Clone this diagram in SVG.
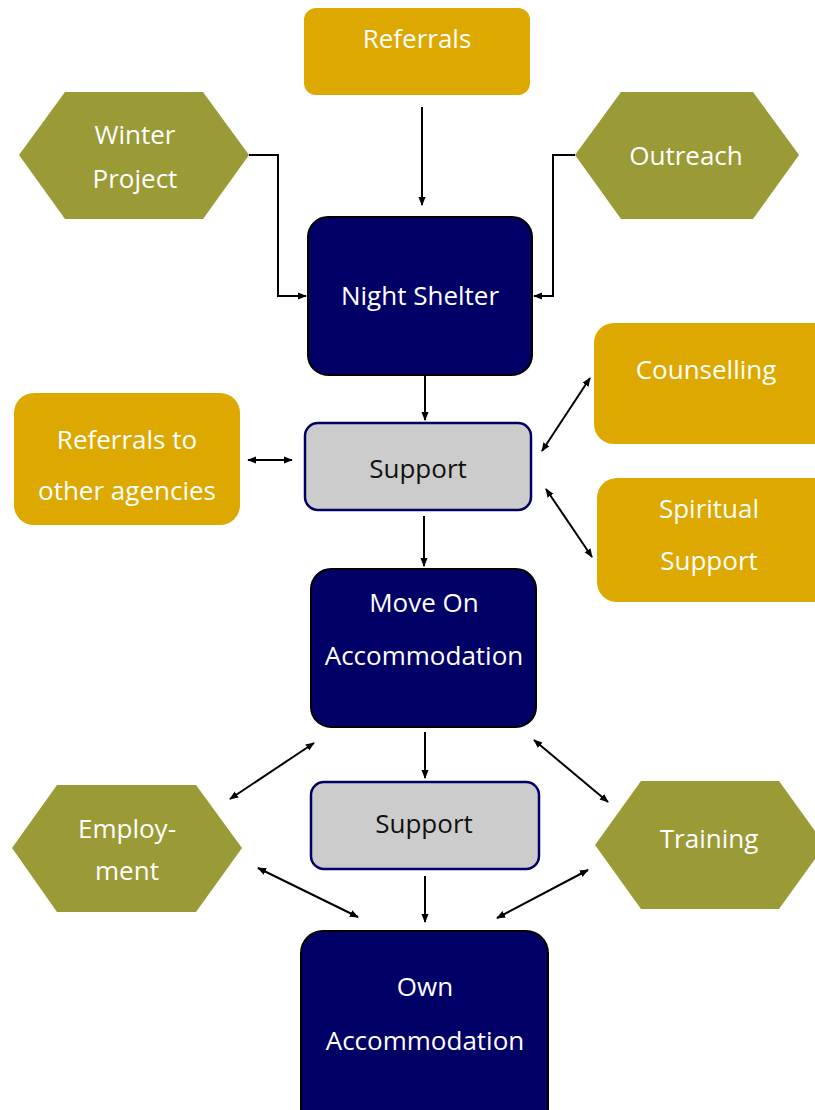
<svg xmlns="http://www.w3.org/2000/svg" width="815" height="1110" viewBox="0 0 815 1110">
<style>
.gold{fill:#DDA900}
.olive{fill:#9A9A36}
.navy{fill:#000066;stroke:#000;stroke-width:2}
.grey{fill:#CCCCCC;stroke:#000066;stroke-width:2.5}
text{font-family:"Open Sans","Liberation Sans",sans-serif;font-size:26px;text-anchor:middle;fill:#fff}
.dark{fill:#111}
.c{fill:none;stroke:#000;stroke-width:2}
</style>
<defs>
<marker id="ah" viewBox="0 0 10 10" refX="9" refY="5" markerWidth="9" markerHeight="9" markerUnits="userSpaceOnUse" orient="auto-start-reverse">
<path d="M0,1 L10,5 L0,9 z" fill="#000"/>
</marker>
</defs>
<rect width="815" height="1110" fill="#fff"/>
<g id="connectors">
<line class="c" x1="422" y1="107" x2="422" y2="205" marker-end="url(#ah)"/>
<polyline class="c" points="249,155 278,155 278,296 306,296" marker-end="url(#ah)"/>
<polyline class="c" points="575,155 553,155 553,296 534,296" marker-end="url(#ah)"/>
<line class="c" x1="425" y1="376" x2="425" y2="420" marker-end="url(#ah)"/>
<line class="c" x1="248" y1="460" x2="292" y2="460" marker-start="url(#ah)" marker-end="url(#ah)"/>
<line class="c" x1="542" y1="451" x2="590" y2="378" marker-start="url(#ah)" marker-end="url(#ah)"/>
<line class="c" x1="546" y1="489" x2="592" y2="557" marker-start="url(#ah)" marker-end="url(#ah)"/>
<line class="c" x1="424" y1="516" x2="424" y2="566" marker-end="url(#ah)"/>
<line class="c" x1="425" y1="732" x2="425" y2="778" marker-end="url(#ah)"/>
<line class="c" x1="425" y1="876" x2="425" y2="922" marker-end="url(#ah)"/>
<line class="c" x1="314" y1="743" x2="230" y2="799" marker-start="url(#ah)" marker-end="url(#ah)"/>
<line class="c" x1="534" y1="740" x2="608" y2="802" marker-start="url(#ah)" marker-end="url(#ah)"/>
<line class="c" x1="258" y1="868" x2="358" y2="917" marker-start="url(#ah)" marker-end="url(#ah)"/>
<line class="c" x1="588" y1="870" x2="497" y2="918" marker-start="url(#ah)" marker-end="url(#ah)"/>
</g>
<g id="referrals">
<rect class="gold" x="304" y="8" width="226" height="87" rx="12"/>
<text x="417" y="48">Referrals</text>
</g>
<g id="winter-project">
<polygon class="olive" points="19,155 65,92 203,92 249,155 203,219 65,219"/>
<text x="135" y="144">Winter</text>
<text x="135" y="188">Project</text>
</g>
<g id="outreach">
<polygon class="olive" points="575,155 621,92 753,92 799,155 753,219 621,219"/>
<text x="686" y="165">Outreach</text>
</g>
<g id="night-shelter">
<rect class="navy" x="308" y="217" width="224" height="158" rx="20"/>
<text x="420" y="305">Night Shelter</text>
</g>
<g id="support-1">
<rect class="grey" x="305" y="423" width="226" height="87" rx="13"/>
<text class="dark" x="418" y="478">Support</text>
</g>
<g id="referrals-other">
<rect class="gold" x="14" y="393" width="226" height="132" rx="20"/>
<text x="127" y="449">Referrals to</text>
<text x="127" y="500">other agencies</text>
</g>
<g id="counselling">
<rect class="gold" x="594" y="323" width="240" height="121" rx="20"/>
<text x="706" y="379">Counselling</text>
</g>
<g id="spiritual-support">
<rect class="gold" x="597" y="478" width="240" height="124" rx="20"/>
<text x="709" y="518">Spiritual</text>
<text x="709" y="570">Support</text>
</g>
<g id="move-on">
<rect class="navy" x="311" y="569" width="225" height="158" rx="20"/>
<text x="424" y="612">Move On</text>
<text x="424" y="665">Accommodation</text>
</g>
<g id="support-2">
<rect class="grey" x="311" y="782" width="228" height="87" rx="13"/>
<text class="dark" x="424" y="833">Support</text>
</g>
<g id="employment">
<polygon class="olive" points="12,848 57,785 196,785 242,848 196,912 57,912"/>
<text x="127" y="838">Employ-</text>
<text x="127" y="880">ment</text>
</g>
<g id="training">
<polygon class="olive" points="595,845 641,781 779,781 825,845 779,909 641,909"/>
<text x="709" y="848">Training</text>
</g>
<g id="own-accommodation">
<rect class="navy" x="301" y="931" width="247" height="200" rx="22"/>
<text x="425" y="996">Own</text>
<text x="425" y="1050">Accommodation</text>
</g>
</svg>
